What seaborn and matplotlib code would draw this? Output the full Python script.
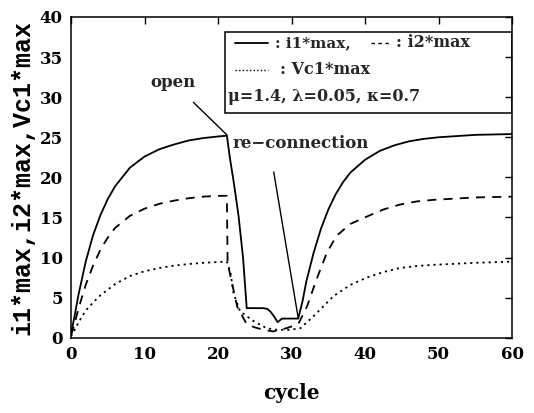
import numpy as np
import pandas as pd
import matplotlib
matplotlib.use("Agg")
import matplotlib.pyplot as plt
from matplotlib.lines import Line2D
from matplotlib.patches import Rectangle
import seaborn as sns

# ---- data ----
i1_cycle = [0, 0.5, 1, 2, 3, 4, 5, 6, 8, 10, 12, 14, 16, 18, 20, 21.2,
            21.6, 22.2, 22.8, 23.4, 23.9, 25, 26.2, 26.7, 27.1, 27.6, 28.1, 28.7,
            30, 30.9, 31.5, 32, 33, 34, 35, 36, 37, 38, 40, 42, 44, 46, 48, 50, 55, 60]
i1_max = [0.5, 2.8, 5.3, 9.5, 12.8, 15.3, 17.3, 18.9, 21.2, 22.6, 23.5, 24.1, 24.6, 24.9, 25.1, 25.2,
          22.5, 19.0, 15.1, 10.0, 3.7, 3.7, 3.7, 3.6, 3.3, 2.7, 1.95, 2.4,
          2.4, 2.4, 4.6, 7.0, 10.6, 13.6, 16.0, 17.9, 19.4, 20.6, 22.2, 23.3, 24.0, 24.5, 24.8, 25.0, 25.3, 25.4]

i2_cycle = [0, 0.5, 1, 2, 3, 4, 5, 6, 8, 10, 12, 14, 16, 18, 20, 21.2,
            21.3, 21.9, 22.6, 23.9, 25, 26.2, 27.5, 29.3, 30.9, 32.1, 33.4, 34.8,
            36.1, 38, 40.2, 42.5, 44.7, 47, 49.3, 55, 60]
i2_max = [0.3, 1.8, 3.6, 6.6, 9.0, 11.0, 12.5, 13.7, 15.2, 16.1, 16.7, 17.1, 17.4, 17.6, 17.7, 17.7,
          9.3, 6.8, 3.9, 1.7, 1.3, 1.0, 0.8, 1.2, 1.7, 3.9, 7.3, 10.6,
          12.7, 14.2, 15.1, 16.0, 16.6, 17.0, 17.2, 17.5, 17.6]

vc1_cycle = [0, 0.5, 1, 2, 3, 4, 5, 6, 8, 10, 12, 14, 16, 18, 20, 21.2,
             21.7, 22.1, 23.0, 24.8, 26.6, 28.0, 29.8, 31.2, 33.0, 35.7, 38, 40.2,
             42.5, 44.7, 47, 49.3, 55, 60]
vc1_max = [0.2, 1.0, 1.9, 3.4, 4.4, 5.3, 6.0, 6.7, 7.7, 8.3, 8.7, 9.0, 9.2, 9.35, 9.45, 9.5,
           8.1, 5.6, 3.3, 2.1, 1.2, 1.0, 1.0, 1.2, 2.7, 5.2, 6.6, 7.5,
           8.2, 8.7, 8.95, 9.1, 9.35, 9.5]

x_ticks = [0, 10, 20, 30, 40, 50, 60]
y_ticks = [0, 5, 10, 15, 20, 25, 30, 35, 40]

sns.set_theme(style="white")
plt.rcParams['font.family'] = ['DejaVu Serif', 'DejaVu Sans']

fig = plt.figure(figsize=(5.34, 4.13), dpi=100)
ax = fig.add_axes([0.133, 0.182, 0.826, 0.777])

df1 = pd.DataFrame({"cycle": i1_cycle, "v": i1_max})
df2 = pd.DataFrame({"cycle": i2_cycle, "v": i2_max})
df3 = pd.DataFrame({"cycle": vc1_cycle, "v": vc1_max})
sns.lineplot(data=df1, x="cycle", y="v", ax=ax, color="black", lw=1.3, sort=False, estimator=None)
sns.lineplot(data=df2, x="cycle", y="v", ax=ax, color="black", lw=1.3, sort=False, estimator=None,
             linestyle=(0, (5, 4)))
sns.lineplot(data=df3, x="cycle", y="v", ax=ax, color="black", lw=1.3, sort=False, estimator=None,
             linestyle=(0, (1.2, 2.2)))

ax.set_xlim(0, 60)
ax.set_ylim(0, 40)
ax.set_xticks(x_ticks)
ax.set_yticks(y_ticks)
ax.tick_params(direction="in", length=5, width=1, top=True, right=True,
               labelsize=12, colors="black", pad=6)
for lab in ax.get_xticklabels() + ax.get_yticklabels():
    lab.set_fontweight("bold")
for s in ax.spines.values():
    s.set_color("black")
    s.set_linewidth(1.1)

ax.set_xlabel("cycle", fontsize=14.5, fontweight="bold", labelpad=14, color="black")
ax.set_ylabel("i1*max,i2*max,Vc1*max", fontsize=18, fontweight="bold",
              family=["Liberation Mono", "DejaVu Sans Mono"], labelpad=4, color="black")

# legend box
tr = ax.transAxes
ax.add_patch(Rectangle((0.349, 0.701), 0.651, 0.252, transform=tr, fill=False,
                       edgecolor="black", lw=1.1, zorder=5))
ax.add_line(Line2D([0.372, 0.447], [0.919, 0.919], transform=tr, color="black", lw=1.3))
ax.text(0.462, 0.919, ": i1*max,", transform=tr, fontsize=11, fontweight="bold", va="center", ha="left")
ax.add_line(Line2D([0.68, 0.725], [0.919, 0.919], transform=tr, color="black", lw=1.0,
                   linestyle=(0, (2.5, 2.5))))
ax.text(0.737, 0.919, ": i2*max", transform=tr, fontsize=11.5, fontweight="bold", va="center", ha="left")
ax.add_line(Line2D([0.372, 0.447], [0.835, 0.835], transform=tr, color="black", lw=1.0,
                   linestyle=(0, (1, 1.6))))
ax.text(0.474, 0.835, ": Vc1*max", transform=tr, fontsize=11.5, fontweight="bold", va="center", ha="left")
ax.text(0.357, 0.751, "μ=1.4, λ=0.05, κ=0.7", transform=tr, fontsize=11.5, fontweight="bold",
        va="center", ha="left")

# annotations
ax.annotate("open", xy=(21.2, 25.3), xytext=(13.9, 31.8), fontsize=12, fontweight="bold",
            ha="center", va="center",
            arrowprops=dict(arrowstyle="-", color="black", lw=1.0, shrinkA=8, shrinkB=0))
ax.annotate("re−connection", xy=(30.9, 2.5), xytext=(31.2, 24.2), fontsize=12, fontweight="bold",
            ha="center", va="center",
            arrowprops=dict(arrowstyle="-", color="black", lw=1.0, shrinkA=12, shrinkB=0,
                            relpos=(0.28, 0)))

fig.savefig("out.png", dpi=100)
